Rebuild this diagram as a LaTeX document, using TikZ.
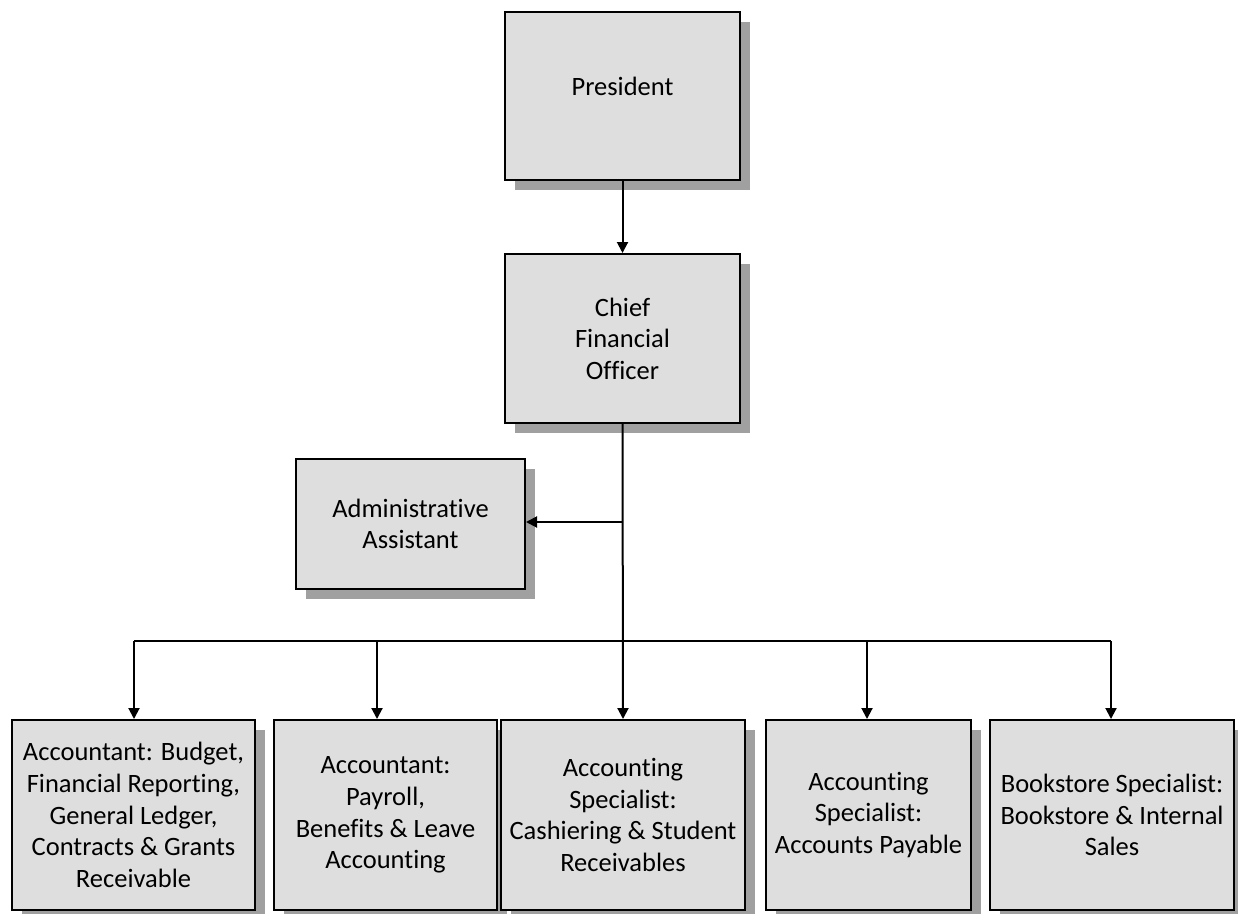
\documentclass[tikz,border=0pt]{standalone}
\usepackage{fontspec}
\setmainfont{Carlito}[Ligatures=NoCommon]
\usetikzlibrary{arrows.meta,shadows}
\definecolor{boxfill}{RGB}{222,222,222}
\definecolor{shadowgray}{RGB}{160,160,160}
\begin{document}
\begin{tikzpicture}[x=1pt,y=-1pt,
  orgbox/.style={draw=black, line width=2pt, fill=boxfill, rectangle, inner sep=0pt,
    align=center, font=\fontsize{26.5}{31.6}\selectfont,
    drop shadow={shadow xshift=10pt, shadow yshift=-10pt, fill=shadowgray, opacity=1}},
  conn/.style={line width=2pt, draw=black},
  arr/.style={conn, -{Triangle[length=11pt,width=11pt]}}]
\useasboundingbox (0,0) rectangle (1238,913);
\fill[white] (0,0) rectangle (1238,913);

\node[orgbox, minimum width=235pt, minimum height=168pt, text depth=20pt] (pres) at (622.5,96) {President};
\node[orgbox, minimum width=235pt, minimum height=169pt] (cfo) at (622.5,338.5) {Chief\\Financial\\Officer};
\node[orgbox, minimum width=229pt, minimum height=130pt] (admin) at (410.5,524) {Administrative\\Assistant};

\node[orgbox, minimum width=243pt, minimum height=190pt] (b1) at (133.5,815) {Accountant: Budget,\\Financial Reporting,\\General Ledger,\\Contracts \& Grants\\Receivable};
\node[orgbox, minimum width=223pt, minimum height=190pt] (b2) at (385.5,815) {Accountant:\\Payroll,\\Benefits \& Leave\\Accounting};
\node[orgbox, minimum width=244pt, minimum height=190pt] (b3) at (623,815) {Accounting\\Specialist:\\Cashiering \& Student\\Receivables};
\node[orgbox, minimum width=205pt, minimum height=190pt] (b4) at (868.5,815) {Accounting\\Specialist:\\Accounts Payable};
\node[orgbox, minimum width=244pt, minimum height=190pt] (b5) at (1112,815) {Bookstore Specialist:\\Bookstore \& Internal\\Sales};

\coordinate (adminj) at (623,522);
\coordinate (bus1) at (134,641);
\coordinate (bus2) at (377,641);
\coordinate (bus4) at (867,641);
\coordinate (bus5) at (1111,641);

\draw[arr] (pres.south) -- (cfo.north);
\draw[arr] (cfo.south) -- (b3.north);
\draw[arr] (adminj) -- (admin.east |- adminj);
\draw[conn] (bus1) -- (bus5);
\draw[arr] (bus1) -- (bus1 |- b1.north);
\draw[arr] (bus2) -- (bus2 |- b2.north);
\draw[arr] (bus4) -- (bus4 |- b4.north);
\draw[arr] (bus5) -- (bus5 |- b5.north);
\end{tikzpicture}
\end{document}
